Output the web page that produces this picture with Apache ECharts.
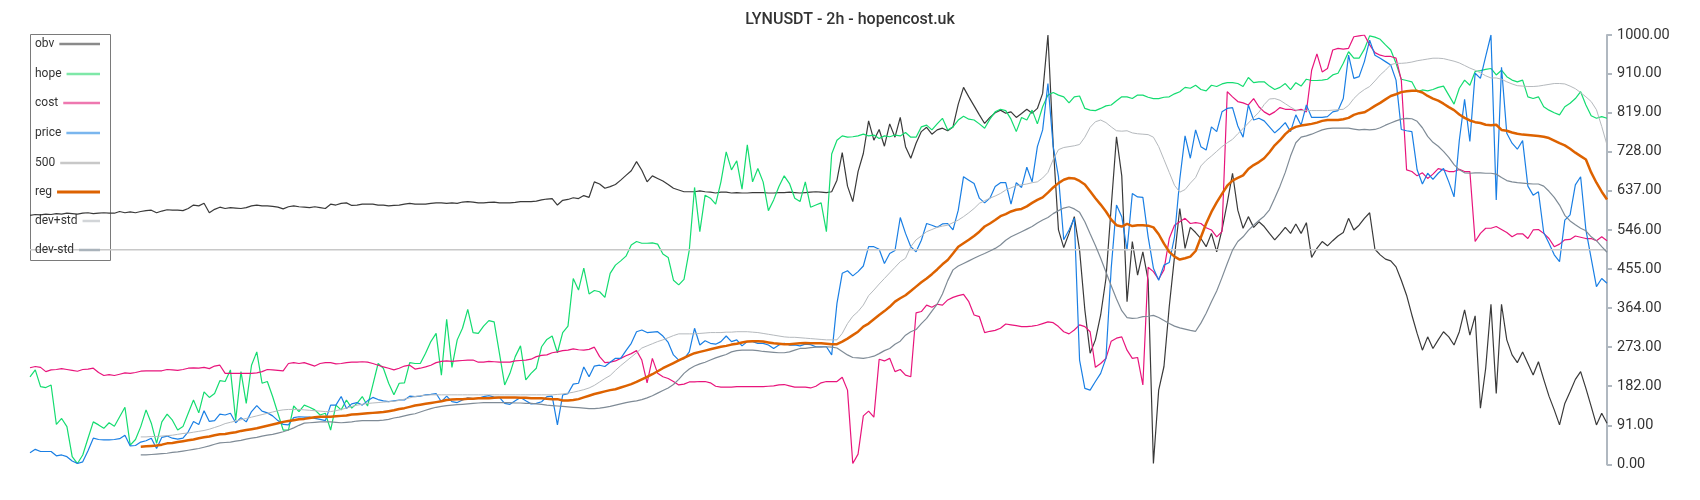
<!DOCTYPE html>
<html>
<head>
<meta charset="utf-8">
<script src="https://cdn.jsdelivr.net/npm/echarts@6/dist/echarts.min.js"></script>
<style>
html,body{margin:0;padding:0;background:#fff;}
#chart{width:1700px;height:500px;}
</style>
</head>
<body>
<div id="chart"></div>
<script>
const title = 'LYNUSDT - 2h - hopencost.uk';
const seriesNames = ['obv','hope','cost','price','500','reg','dev+std','dev-std'];
const N = 300;
const categories = Array.from({length: N}, (_, i) => String(i));
const BAND_START = 21;
const level500 = 500;

const obv = [
580,582,581,583,582,584,583,585,584,583,585,586,584,585,586,585,
585,589,586,588,586,589,591,592,586,590,593,592,592,591,596,604,602,608,586,594,599,
596,598,597,596,598,602,604,602,602,601,599,595,600,602,600,599,598,600,598,596,606,604,608,609,603,604,606,606,606,604,604,602,603,604,606,608,606,
606,606,608,609,609,608,609,608,611,612,611,609,609,610,611,609,609,609,610,612,612,612,613,616,618,619,604,615,617,621,619,626,622,658,653,643,647,
652,662,673,684,705,685,658,672,666,660,652,643,639,635,635,635,637,635,634,632,634,634,632,633,632,632,633,633,633,632,632,633,633,634,633,632,633,
634,635,634,633,635,662,726,648,612,682,724,800,755,780,741,793,762,808,740,713,748,775,785,769,779,783,777,786,839,878,856,835,814,794,808,819,825,
818,821,808,817,827,818,829,864,1000,744,546,505,538,577,499,360,259,290,348,433,600,763,672,379,519,441,495,429,2,173,228,367,484,596,503,552,540,
526,507,538,495,546,609,678,592,550,577,552,565,554,538,523,537,552,538,560,538,563,482,503,519,509,521,532,540,573,546,557,573,586,501,488,478,474,
460,429,394,348,305,266,297,270,290,309,297,278,309,360,301,346,131,224,373,165,373,290,255,237,262,235,208,239,198,159,127,92,142,169,198,216,177,
135,92,119,96
];

const hope = [
204,220,181,179,185,93,107,88,18,2,22,61,99,92,84,97,89,111,133,45,58,88,127,96,49,99,117,103,80,88,119,150,120,169,156,165,195,
193,220,103,216,142,231,262,189,193,158,119,80,80,136,123,138,133,127,115,119,80,138,127,150,131,142,158,136,185,235,224,189,162,189,190,237,235,
235,259,286,305,208,338,226,290,317,361,307,305,322,335,332,259,185,212,251,276,197,212,224,274,291,299,260,307,322,433,406,457,397,405,402,389,445,
464,474,485,511,519,515,515,516,513,490,482,429,418,431,499,645,542,627,620,606,658,728,686,707,641,744,658,689,658,591,616,647,672,654,620,612,658,
599,604,609,542,723,755,765,762,763,765,769,765,767,759,765,763,767,765,773,762,762,786,790,779,793,806,779,786,802,811,804,802,793,783,804,821,827,
824,804,775,808,802,825,793,833,860,866,860,856,842,856,858,829,825,824,829,835,837,847,856,856,852,860,860,855,852,852,855,856,863,868,878,876,883,
873,870,883,880,886,889,889,887,880,901,889,891,891,881,873,878,887,873,889,881,897,894,894,895,897,907,911,934,961,946,946,967,998,995,990,977,965,
934,897,894,891,868,872,870,873,878,881,860,839,876,895,883,915,917,920,922,907,918,903,895,891,895,856,852,856,833,825,819,814,833,841,852,868,837,
812,806,810,806
];

const cost = [
225,228,226,216,220,221,223,221,219,217,221,222,224,214,207,209,207,210,213,212,214,217,218,218,218,218,221,220,219,221,224,225,224,226,223,229,231,
212,212,212,212,212,212,213,216,221,220,219,218,235,237,235,237,233,229,235,237,237,234,235,237,238,238,239,238,235,231,227,224,220,224,229,231,222,
224,227,231,237,240,241,240,241,242,243,243,238,238,240,239,238,238,238,241,242,243,245,251,254,255,260,262,265,266,269,267,266,268,273,251,237,238,
241,247,253,258,265,243,190,247,212,204,200,193,185,187,192,192,193,193,190,182,180,180,180,181,181,181,181,181,181,182,183,185,186,183,180,180,180,
178,182,190,193,193,193,203,173,2,24,113,124,110,245,241,247,216,221,208,204,353,356,371,366,373,371,383,389,393,396,379,348,344,307,310,312,317,
327,325,323,321,321,322,324,328,332,330,321,309,304,313,325,321,309,226,235,247,287,294,297,266,247,249,185,459,449,431,453,526,557,565,573,561,563,
561,551,546,530,542,868,856,845,842,837,852,833,821,814,821,831,827,827,824,827,821,918,956,914,922,965,969,967,969,996,998,1000,977,959,953,950,950,
946,895,686,682,672,679,666,676,689,686,682,682,687,682,682,519,538,550,550,554,547,540,530,537,537,526,546,547,538,526,507,513,523,524,532,529,526,
526,521,530,521
];

const price = [
27,35,30,30,30,20,22,18,8,2,6,32,61,58,57,57,58,60,68,43,44,52,55,61,37,63,66,61,59,61,76,100,93,125,100,102,117,
115,119,97,109,99,123,137,124,120,113,102,93,92,109,111,110,110,107,105,102,138,138,158,130,141,144,138,148,156,151,148,146,148,150,150,159,158,
159,162,163,165,146,159,146,144,150,155,153,154,158,160,157,156,142,140,148,156,148,141,142,146,158,159,92,162,165,187,189,227,204,229,231,228,238,
247,247,265,282,309,313,307,308,309,299,284,255,243,246,262,317,278,288,282,280,286,299,286,290,276,286,286,282,282,278,270,278,282,278,278,276,280,
279,274,274,274,255,375,445,451,439,449,462,507,507,501,468,491,498,575,538,507,495,522,561,557,552,560,561,546,592,670,662,654,620,609,620,647,656,
656,606,656,645,692,658,740,779,887,740,670,523,546,573,243,177,173,193,212,247,457,604,577,499,631,623,622,530,457,429,464,470,530,664,765,713,779,
740,732,786,775,821,829,831,788,762,837,802,806,800,786,772,783,796,775,814,790,837,808,808,808,810,821,824,852,953,899,903,938,988,953,946,938,930,
895,780,777,775,686,653,678,664,678,689,658,623,755,850,752,911,899,950,1000,616,925,771,748,734,754,648,627,635,540,515,488,472,569,581,651,670,546,
480,414,433,422
];

const reg = [
41,42,43,44,46,49,50,52,54,56,58,61,63,65,68,70,
71,73,75,78,80,82,84,87,90,93,96,99,101,103,105,106,108,110,111,111,111,112,113,114,116,117,118,119,120,121,122,124,126,129,131,134,137,
139,141,143,145,147,150,151,152,152,153,153,154,154,154,155,156,156,156,156,155,155,154,154,154,153,152,152,149,149,150,152,156,160,164,167,170,173,
175,179,183,187,192,198,204,210,217,224,230,236,242,248,254,259,262,265,268,271,274,276,279,281,284,286,287,287,286,284,282,281,280,280,281,282,283,
282,282,282,281,280,280,286,293,301,309,321,328,338,348,357,367,379,387,394,404,414,424,433,443,454,466,476,491,507,515,523,532,542,554,561,569,578,
583,589,593,595,601,609,616,622,633,645,655,663,667,666,660,652,636,620,605,589,570,557,554,560,555,557,557,556,552,536,514,495,484,477,480,484,497,
529,561,588,610,630,649,661,667,673,688,697,704,713,727,743,755,769,780,786,789,791,793,796,800,802,802,802,804,807,814,818,820,827,835,842,850,858,
862,867,869,870,870,866,858,852,847,840,832,825,815,807,801,797,795,791,790,791,779,777,773,770,768,767,766,765,763,760,754,748,743,735,726,718,710,
680,656,635,617
];

const devPlus = [
64,64,65,65,66,67,68,70,72,73,75,77,79,82,86,90,
95,98,101,104,107,110,113,116,119,122,125,127,128,128,128,127,126,125,124,123,123,125,128,131,135,138,140,142,143,144,145,146,147,149,152,155,158,
160,161,162,162,162,162,162,162,162,162,162,162,162,162,162,162,162,162,162,162,162,162,162,162,162,162,163,164,166,168,171,174,178,184,192,200,207,
219,230,240,250,260,271,276,281,286,290,295,300,304,304,304,304,305,306,307,307,307,308,308,309,309,309,308,307,305,303,301,299,297,296,296,295,294,
293,292,291,290,290,290,305,328,345,356,371,393,406,420,433,446,459,472,480,507,523,532,542,547,552,555,557,563,569,577,586,596,608,614,620,625,631,
639,644,649,651,653,656,658,667,680,710,733,738,740,742,745,762,785,798,802,796,786,777,776,777,772,770,769,768,762,740,710,680,650,634,640,655,668,
695,708,718,729,740,749,757,770,782,795,808,820,838,851,852,848,840,832,825,824,824,824,824,824,824,825,826,827,836,852,864,873,880,893,907,918,931,
934,934,935,937,940,942,944,946,946,945,942,939,935,929,923,918,912,905,900,900,897,891,886,882,881,880,880,881,883,885,887,887,886,881,875,866,856,
845,826,787,744
];

const devMinus = [
22,22,23,24,25,26,28,29,31,33,35,37,40,43,47,50,
51,52,54,56,59,61,63,66,68,70,73,76,80,85,91,96,97,98,99,99,99,98,97,98,99,101,102,102,102,102,103,105,108,110,113,116,118,
122,126,130,133,135,137,138,139,140,141,142,143,144,144,144,144,144,144,143,143,142,142,141,140,138,137,136,135,134,133,132,131,130,130,131,133,135,
138,141,144,146,148,151,155,160,166,172,178,186,198,212,222,229,234,238,243,248,252,256,262,265,266,266,266,265,263,262,261,260,260,262,266,270,270,
272,273,273,274,273,271,263,255,249,248,247,249,252,258,265,270,280,287,301,309,314,328,340,357,373,397,428,453,462,468,474,480,486,491,497,503,511,
522,530,536,542,548,554,562,569,575,584,591,597,600,595,587,565,537,510,480,448,416,385,358,342,340,341,344,345,347,342,335,328,322,318,315,312,310,
329,352,379,404,435,468,499,519,530,545,557,568,578,593,620,648,680,718,749,762,765,769,774,779,782,783,783,783,783,781,779,780,779,780,784,790,795,
800,804,806,805,799,784,764,750,741,729,715,698,686,679,678,679,679,678,678,676,668,661,658,656,655,654,653,653,648,636,622,604,580,567,558,550,544,
530,521,507,494
];

const yTicks = {min: 0, max: 1000, interval: 91};

const lens = {obv: obv.length, hope: hope.length, cost: cost.length, price: price.length,
  reg: reg.length + BAND_START, devPlus: devPlus.length + BAND_START, devMinus: devMinus.length + BAND_START};
if (Object.values(lens).some(l => l !== N)) throw new Error('length mismatch ' + JSON.stringify(lens));

const colors = {
  'obv': '#3a3a3a', 'hope': '#14dc70', 'cost': '#e8157c', 'price': '#1a7fe4',
  '500': '#c8c8c8', 'reg': '#dd6200', 'dev+std': '#b5b9bd', 'dev-std': '#7f8b96'
};
const legendColors = {
  'obv': '#8a8a8a', 'hope': '#7ee8a8', 'cost': '#ee78b0', 'price': '#7ab6ee',
  '500': '#c8c8c8', 'reg': '#dd6200', 'dev+std': '#d2d5d8', 'dev-std': '#aab3bb'
};
const widths = {'obv': 1.2, 'hope': 1.2, 'cost': 1.2, 'price': 1.2, '500': 1.5, 'reg': 2.5, 'dev+std': 1, 'dev-std': 1.2};

const band = arr => arr.map((v, k) => [BAND_START + k, v]);
const seriesData = {
  'obv': obv, 'hope': hope, 'cost': cost, 'price': price,
  '500': [[0, level500], [N - 1, level500]],
  'reg': band(reg), 'dev+std': band(devPlus), 'dev-std': band(devMinus)
};

const ctx = document.createElement('canvas').getContext('2d');
ctx.font = '12px Roboto';
const legendCenters = [45, 75, 104, 134, 164, 193, 222, 251];

const chart = echarts.init(document.getElementById('chart'), null, {renderer: 'canvas'});
chart.setOption({
  animation: false,
  backgroundColor: '#fff',
  textStyle: {fontFamily: 'Roboto'},
  title: {
    text: title, left: 'center', top: 7,
    textStyle: {fontSize: 16, fontWeight: 500, color: '#333', fontFamily: 'Roboto'}
  },
  grid: {left: 30, right: 93, top: 35, bottom: 35.6, containLabel: false},
  graphic: [{
    type: 'rect', z: 3, silent: true,
    shape: {x: 30.5, y: 34.5, width: 80, height: 226},
    style: {fill: '#fff', stroke: '#7a7a7a', lineWidth: 1}
  }],
  legend: seriesNames.map((n, k) => {
    const tw = ctx.measureText(n).width;
    return {
      data: [n], left: 35, top: legendCenters[k] - 7, orient: 'vertical', align: 'right',
      padding: 0, itemGap: 0, itemWidth: Math.max(12, 101 - 35 - tw - 6), itemHeight: 14,
      selectedMode: false, z: 4,
      textStyle: {fontSize: 12, color: '#333', fontFamily: 'Roboto'},
      itemStyle: {opacity: 0, borderWidth: 0},
      lineStyle: {color: legendColors[n], opacity: 1, width: n === 'reg' ? 3 : 2.5}
    };
  }),
  xAxis: {
    type: 'category', data: categories, boundaryGap: false, show: false
  },
  yAxis: {
    type: 'value', position: 'right', min: yTicks.min, max: yTicks.max, interval: yTicks.interval,
    splitLine: {show: false},
    axisLine: {show: true, lineStyle: {color: '#b0b8c0', width: 2}},
    axisTick: {show: true, length: 5, lineStyle: {color: '#b0b8c0', width: 2}},
    axisLabel: {margin: 10, fontSize: 14.5, color: '#333', fontFamily: 'Roboto', formatter: v => v.toFixed(2)}
  },
  series: seriesNames.map(n => ({
    name: n, type: 'line', data: seriesData[n], symbol: 'none', showSymbol: false,
    lineStyle: {color: colors[n], width: widths[n]}, itemStyle: {color: colors[n]},
    emphasis: {disabled: true}, silent: true
  }))
});
</script>
</body>
</html>
